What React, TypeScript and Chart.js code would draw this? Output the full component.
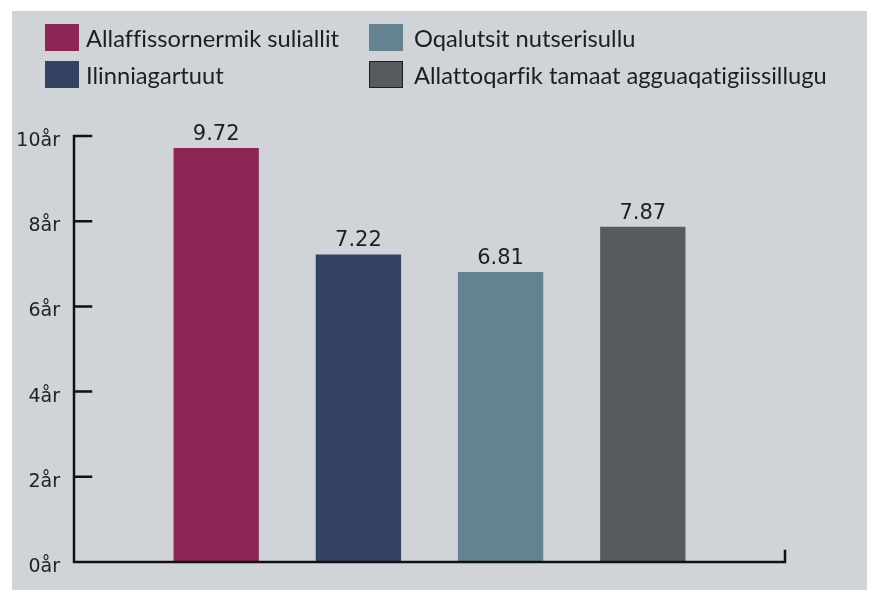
import React, { useEffect, useRef } from "react";
import { Chart, registerables } from "chart.js";

Chart.register(...registerables);

const categories = [
  "Allaffissornermik suliallit",
  "Ilinniagartuut",
  "Oqalutsit nutserisullu",
  "Allattoqarfik tamaat agguaqatigiissillugu",
];
const values = [9.72, 7.22, 6.81, 7.87];
const colors = ["#8b2655", "#334260", "#64828f", "#575b5e"];
const yTicks = [0, 2, 4, 6, 8, 10];
const unit = "år";

const legendItems = [
  { idx: 0, left: 45, top: 24, textLeft: 86 },
  { idx: 1, left: 45, top: 61, textLeft: 86 },
  { idx: 2, left: 369, top: 24, textLeft: 414 },
  { idx: 3, left: 369, top: 61, textLeft: 414 },
];

const axisPlugin = {
  id: "axisLines",
  afterDraw(chart: any) {
    const { ctx, chartArea, scales } = chart;
    const y = scales.y;
    const left = chartArea.left;
    const right = chartArea.right;
    const bottom = y.getPixelForValue(0);
    const top = y.getPixelForValue(yTicks[yTicks.length - 1]);
    ctx.save();
    ctx.strokeStyle = "#111111";
    ctx.lineWidth = 2.5;
    ctx.lineCap = "square";
    ctx.beginPath();
    ctx.moveTo(left, top);
    ctx.lineTo(left, bottom);
    ctx.lineTo(right, bottom);
    ctx.lineTo(right, bottom - 11);
    yTicks.forEach((t) => {
      const py = y.getPixelForValue(t);
      ctx.moveTo(left, py);
      ctx.lineTo(left + 17, py);
    });
    ctx.stroke();
    ctx.restore();
  },
};

const valueLabelPlugin = {
  id: "valueLabels",
  afterDatasetsDraw(chart: any) {
    const { ctx } = chart;
    const meta = chart.getDatasetMeta(0);
    const data = chart.data.datasets[0].data;
    ctx.save();
    ctx.fillStyle = "#1e1e1e";
    ctx.font = "21px 'DejaVu Sans'";
    ctx.textAlign = "center";
    ctx.textBaseline = "bottom";
    meta.data.forEach((bar: any, i: number) => {
      const v = data[i];
      if (v === null || v === undefined) return;
      ctx.fillText(Number(v).toFixed(2), bar.x, bar.y - 3);
    });
    ctx.restore();
  },
};

export default function App() {
  const canvasRef = useRef<HTMLCanvasElement | null>(null);

  useEffect(() => {
    const canvas = canvasRef.current;
    if (!canvas) return;
    const chart = new Chart(canvas, {
      type: "bar",
      data: {
        labels: ["", ...categories, ""],
        datasets: [
          {
            data: [null, ...values, null],
            backgroundColor: ["transparent", ...colors, "transparent"],
            categoryPercentage: 1,
            barPercentage: 0.6,
          },
        ],
      },
      options: {
        responsive: false,
        animation: false,
        devicePixelRatio: 1,
        layout: { padding: { left: 0, top: 136, right: 85, bottom: 31 } },
        plugins: {
          legend: { display: false },
          tooltip: { enabled: false },
        },
        scales: {
          x: {
            type: "category",
            offset: false,
            display: false,
            grid: { display: false },
          },
          y: {
            min: 0,
            max: 10,
            afterFit(scale: any) {
              scale.width = 74;
            },
            grid: { display: false, drawTicks: false },
            border: { display: false },
            ticks: {
              stepSize: 2,
              padding: 14,
              labelOffset: 5,
              color: "#222222",
              font: { family: "'DejaVu Sans'", size: 19 },
              callback: (v: any) => `${v}${unit}`,
            },
          },
        },
      },
      plugins: [axisPlugin, valueLabelPlugin],
    });
    return () => chart.destroy();
  }, []);

  return (
    <div style={{ position: "absolute", left: 0, top: 0, width: 870, height: 593, background: "#ffffff" }}>
      <div
        style={{
          position: "absolute",
          left: 12,
          top: 11,
          width: 855,
          height: 579,
          background: "#d0d3d8",
        }}
      />
      <canvas
        ref={canvasRef}
        width={870}
        height={593}
        style={{ position: "absolute", left: 0, top: 0, width: 870, height: 593 }}
      />
      {legendItems.map((it) => (
        <div key={it.idx}>
          <div
            style={{
              position: "absolute",
              left: it.left,
              top: it.top,
              width: 34,
              height: 27,
              boxSizing: "border-box",
              background: colors[it.idx],
              border: it.idx === 3 ? "1.5px solid #1e1e1e" : "none",
            }}
          />
          <div
            style={{
              position: "absolute",
              left: it.textLeft,
              top: it.top - 3,
              height: 34,
              lineHeight: "34px",
              fontFamily: "Lato, sans-serif",
              fontSize: 23.7,
              fontVariantLigatures: "none",
              color: "#1e1e1e",
              whiteSpace: "nowrap",
            }}
          >
            {categories[it.idx]}
          </div>
        </div>
      ))}
    </div>
  );
}
